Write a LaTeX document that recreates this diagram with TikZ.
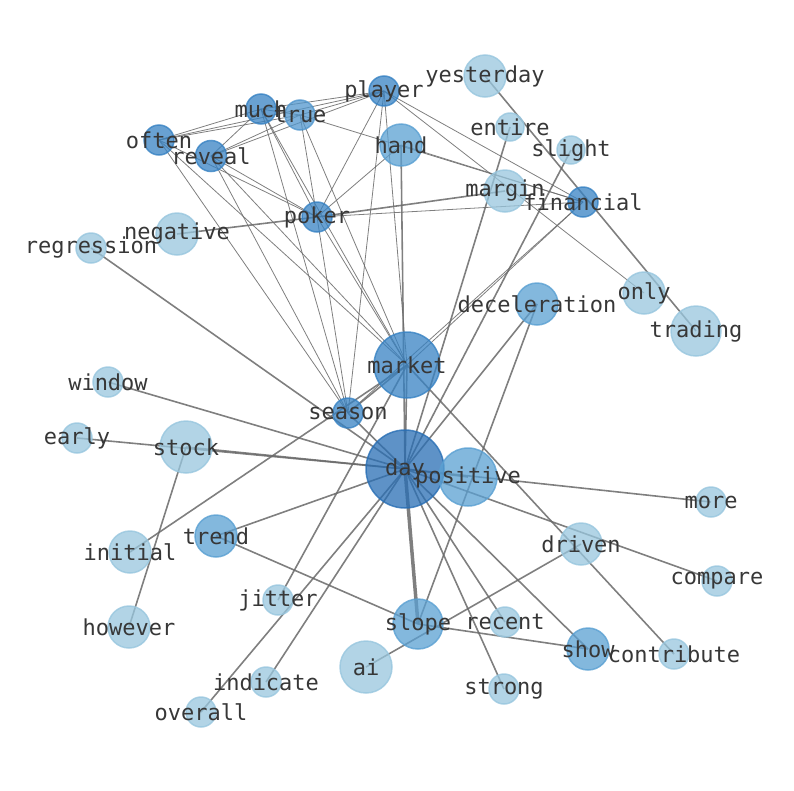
\documentclass[tikz,border=0pt]{standalone}
\usepackage{fontspec}
\newfontfamily\lblfont{DejaVu Sans Mono}
\definecolor{clt}{RGB}{152,198,222}
\definecolor{cmd}{RGB}{90,160,210}
\definecolor{cmt}{RGB}{80,150,205}
\definecolor{cdk}{RGB}{55,130,195}
\definecolor{cdd}{RGB}{40,110,180}
\definecolor{edgec}{RGB}{105,105,105}
\definecolor{txt}{RGB}{55,55,55}
\tikzset{
  nd/.style={circle,inner sep=0pt,fill opacity=0.75,draw opacity=0.8,line width=1.5pt},
  lt/.style={nd,fill=clt,draw=clt},
  md/.style={nd,fill=cmd,draw=cmd},
  mt/.style={nd,fill=cmt,draw=cmt},
  dk/.style={nd,fill=cdk,draw=cdk},
  dd/.style={nd,fill=cdd,draw=cdd},
  lbl/.style={text=txt,font=\lblfont\fontsize{22}{22}\selectfont,inner sep=0pt},
  thin/.style={draw=edgec,draw opacity=0.85,line width=0.8pt},
  thick/.style={draw=edgec,draw opacity=0.85,line width=1.6pt},
  vthick/.style={draw=edgec,draw opacity=0.85,line width=3.5pt}
}
\begin{document}
\begin{tikzpicture}[x=1pt,y=-1pt]
\useasboundingbox (0,0) rectangle (794,790);
\foreach \n/\x/\y in {player/384/91,much/261/109,true/300/115,often/159/140,reveal/211/156,hand/401/145,yesterday/485/76,entire/510/127,slight/571/150,margin/505/191,financial/583/202,poker/317/217,negative/177/234,regression/91/248,only/644/293,trading/696/331,deceleration/537/304,market/407/365,window/108/382,season/348/413,early/77/438,stock/186/447,day/405/469,positive/468/477,more/711/502,trend/216/536,initial/130/552,driven/581/544,compare/717/581,jitter/278/600,however/129/627,slope/418/624,recent/505/622,show/588/649,contribute/674/654,ai/366/667,indicate/266/682,strong/504/689,overall/201/712}
  \coordinate (\n) at (\x,\y);
% edges
\foreach \a/\b in {player/much,player/true,player/often,player/reveal,player/poker,player/season,player/market,player/financial,player/only,
  much/true,much/often,much/reveal,much/poker,much/season,much/market,
  true/often,true/reveal,true/poker,true/financial,true/market,
  often/poker,often/season,often/market,
  reveal/poker,reveal/season,reveal/market,
  poker/hand,poker/season,poker/market,poker/financial,
  hand/financial,season/financial,market/financial}
  \draw[thin] (\a) -- (\b);
\foreach \a/\b in {negative/poker,poker/margin,regression/day,window/day,early/day,stock/day,stock/however,initial/market,jitter/market,overall/day,indicate/day,trend/day,trend/slope,slope/show,ai/driven,day/more,day/compare,day/show,day/recent,day/strong,market/contribute,deceleration/day,deceleration/slope,entire/day,slight/day,yesterday/trading,hand/day,season/day,season/market,market/day,day/positive}
  \draw[thick] (\a) -- (\b);
\draw[vthick] (day) -- (slope);
% nodes on top of edges
\foreach \n/\s/\d in {player/dk/30,much/dk/30,true/mt/30,often/dk/30,reveal/dk/31,hand/md/42,yesterday/lt/42,entire/lt/28,slight/lt/28,margin/lt/42,financial/dk/30,poker/dk/30,negative/lt/42,regression/lt/30,only/lt/42,trading/lt/50,deceleration/md/42,market/dk/66,window/lt/30,season/dk/30,early/lt/30,stock/lt/52,day/dd/78,positive/md/58,more/lt/30,trend/md/42,initial/lt/42,driven/lt/42,compare/lt/30,jitter/lt/30,however/lt/42,slope/md/50,recent/lt/30,show/md/42,contribute/lt/30,ai/lt/52,indicate/lt/30,strong/lt/30,overall/lt/30}
  \node[\s,minimum size=\d pt] (n\n) at (\n) {};
\foreach \n in {player,much,true,often,reveal,hand,yesterday,entire,slight,margin,financial,poker,negative,regression,only,trading,deceleration,market,window,season,early,stock,day,positive,more,trend,initial,driven,compare,jitter,however,slope,recent,show,contribute,ai,indicate,strong,overall}
  \node[lbl] (t\n) at (\n) {\n};
\end{tikzpicture}
\end{document}
